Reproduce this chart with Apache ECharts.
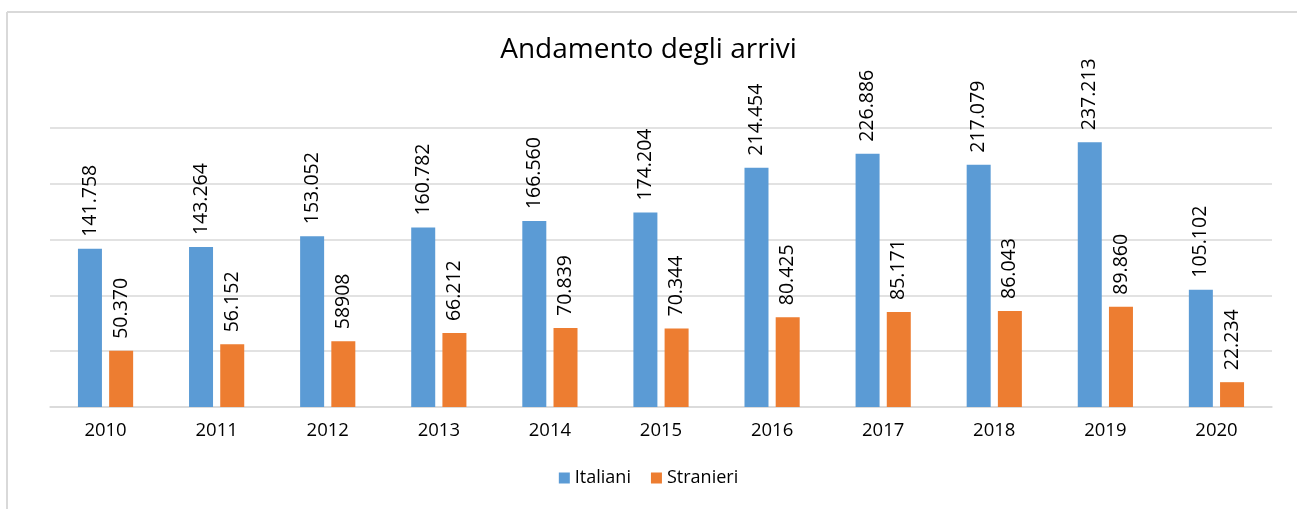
<!DOCTYPE html>
<html>
<head>
<meta charset="utf-8">
<script src="https://cdn.jsdelivr.net/npm/echarts@6/dist/echarts.min.js"></script>
<style>
html,body{margin:0;padding:0;background:#fff;}
#chart{width:1297px;height:509px;}
</style>
</head>
<body>
<div id="chart"></div>
<script>
const categories = ['2010','2011','2012','2013','2014','2015','2016','2017','2018','2019','2020'];
const italiani = [141.758,143.264,153.052,160.782,166.560,174.204,214.454,226.886,217.079,237.213,105.102];
const stranieri = [50.370,56.152,58.908,66.212,70.839,70.344,80.425,85.171,86.043,89.860,22.234];
const italianiLabels = ['141.758','143.264','153.052','160.782','166.560','174.204','214.454','226.886','217.079','237.213','105.102'];
const stranieriLabels = ['50.370','56.152','58908','66.212','70.839','70.344','80.425','85.171','86.043','89.860','22.234'];

const FONT = '"Open Sans", "Noto Sans", sans-serif';
const chart = echarts.init(document.getElementById('chart'), null, {renderer:'canvas'});

function labelCfg(texts){
  return {
    show:true, position:'top', rotate:90, align:'left', verticalAlign:'middle',
    distance:12, color:'#000', fontFamily:FONT, fontSize:19.5,
    formatter: p => texts[p.dataIndex]
  };
}

chart.setOption({
  animation:false,
  backgroundColor:'#fff',
  title:{
    text:'Andamento degli arrivi', left:'center', top:31,
    textStyle:{fontFamily:FONT, fontSize:28, fontWeight:'normal', color:'#000'}
  },
  legend:{
    bottom:17, left:'center', icon:'rect', itemWidth:11, itemHeight:11, itemGap:20,
    textStyle:{fontFamily:FONT, fontSize:18, color:'#000'}
  },
  grid:{left:50, right:25, top:128, bottom:102, containLabel:false},
  xAxis:{
    type:'category', data:categories,
    axisLine:{show:true, lineStyle:{color:'#d9d9d9', width:1.5}},
    axisTick:{show:false},
    axisLabel:{fontFamily:FONT, fontSize:18.5, color:'#000', margin:14}
  },
  yAxis:{
    type:'value', min:0, max:250, interval:50,
    axisLabel:{show:false}, axisLine:{show:false}, axisTick:{show:false},
    splitLine:{lineStyle:{color:'#d9d9d9', width:1.5}}
  },
  series:[
    {name:'Italiani', type:'bar', data:italiani, barWidth:24, barGap:'30%',
     itemStyle:{color:'#5b9bd5'}, label:labelCfg(italianiLabels)},
    {name:'Stranieri', type:'bar', data:stranieri, barWidth:24,
     itemStyle:{color:'#ed7d31'}, label:labelCfg(stranieriLabels)}
  ],
  graphic:[
    {type:'line', shape:{x1:7, y1:12, x2:1297, y2:12}, style:{stroke:'#d9d9d9', lineWidth:2}},
    {type:'line', shape:{x1:7, y1:12, x2:7, y2:509}, style:{stroke:'#d9d9d9', lineWidth:2}}
  ]
});
</script>
</body>
</html>
